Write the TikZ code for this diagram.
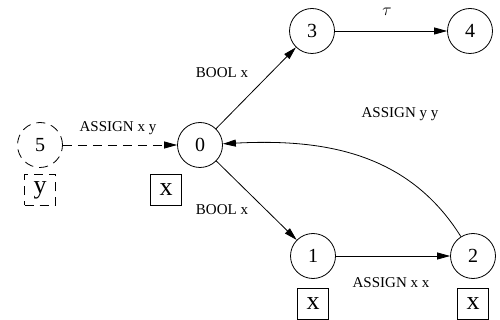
\documentclass[tikz,border=0pt]{standalone}
\usepackage{fontspec}
\setmainfont{Liberation Serif}
\usetikzlibrary{arrows.meta}
\begin{document}
\begin{tikzpicture}[x=1pt,y=-1pt,
  state/.style={circle,draw,line width=0.8pt,minimum size=45pt,inner sep=0pt,font=\fontsize{20}{22}\selectfont},
  varbox/.style={draw,line width=0.8pt,minimum size=31pt,inner sep=0pt,font=\fontsize{26}{28}\selectfont},
  lbl/.style={font=\fontsize{15}{17}\selectfont,inner sep=0pt},
  edge/.style={line width=0.8pt,-{Triangle[length=13pt,width=7pt]}},
  dsh/.style={dash pattern=on 9pt off 6pt}]
\useasboundingbox (0,0) rectangle (500,320);
\node[state] (n0) at (200,145) {0};
\node[state] (n3) at (312,31) {3};
\node[state] (n4) at (470,31) {4};
\node[state,dsh] (n5) at (40,145) {5};
\node[state] (n1) at (313,256) {1};
\node[state] (n2) at (473,256) {2};
\node[varbox] (b0) at (166,190) {x};
\node[varbox,dsh] (b5) at (40,190) {y};
\node[varbox] (b1) at (313,304) {x};
\node[varbox] (b2) at (473,304) {x};
\draw[edge,dsh] (n5) -- (n0);
\draw[edge] (n0) -- (n3);
\draw[edge] (n3) -- (n4);
\draw[edge] (n0) -- (n1);
\draw[edge] (n1) -- (n2);
\draw[edge] (n2) to[out=122,in=3] (n0);
\node[lbl] (l1) at (118,128) {ASSIGN x y};
\node[lbl] (l2) at (222,73) {BOOL x};
\node[lbl] (l3) at (222,210) {BOOL x};
\node[lbl] (l4) at (400,114) {ASSIGN y y};
\node[lbl] (l5) at (391,283) {ASSIGN x x};
\node[lbl,font=\fontsize{17}{19}\selectfont] (l6) at (387,12) {$\tau$};
\end{tikzpicture}
\end{document}
